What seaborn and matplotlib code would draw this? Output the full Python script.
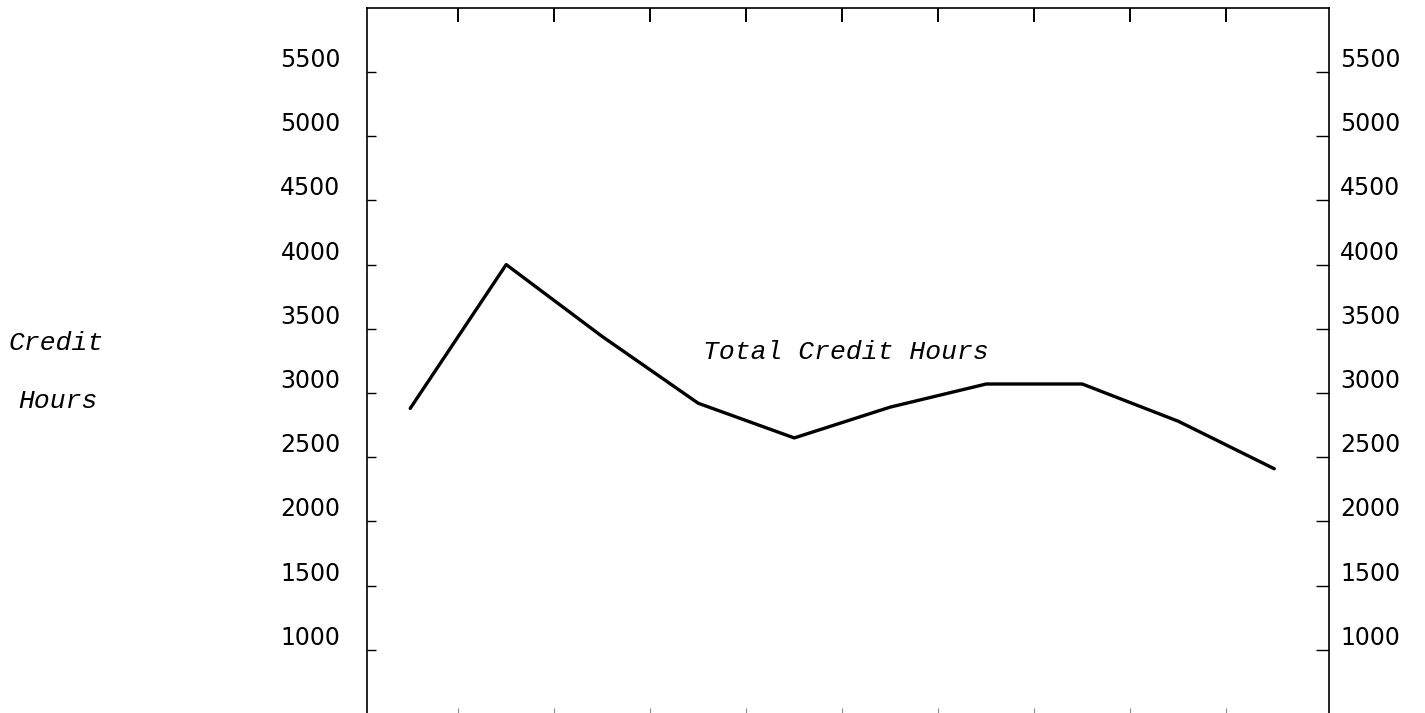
import matplotlib
matplotlib.use("Agg")
import pandas as pd
import matplotlib.pyplot as plt
import seaborn as sns

# values (x axis has no labels)
periods = [1, 2, 3, 4, 5, 6, 7, 8, 9, 10]
credit_hours = [2880, 4000, 3440, 2920, 2650, 2890, 3070, 3070, 2780, 2410]
y_ticks = [1000, 1500, 2000, 2500, 3000, 3500, 4000, 4500, 5000, 5500]
x_ticks = [1.5, 2.5, 3.5, 4.5, 5.5, 6.5, 7.5, 8.5, 9.5]
series_label = "Total Credit Hours"
axis_words = ["Credit", "Hours"]

sns.set_theme(style="white")
plt.rcParams['font.family'] = ['DejaVu Sans']

df = pd.DataFrame({"period": periods, "hours": credit_hours})

fig = plt.figure(figsize=(14.25, 7.13), dpi=100)
ax = fig.add_axes([367 / 1425, -0.0014, 962 / 1425, 0.9905])

sns.lineplot(data=df, x="period", y="hours", color="black", linewidth=2.4, ax=ax)

ax.set_xlim(0.55, 10.57)
ax.set_ylim(500, 6000)
ax.set_xlabel("")
ax.set_ylabel("")

# left axis
ax.set_yticks(y_ticks)
ax.tick_params(axis='y', direction='in', length=6.5, width=1, color='black',
               left=True, right=False, pad=19, labelsize=17, labelcolor='black')
# bottom: faint short ticks, no labels
ax.set_xticks(x_ticks)
ax.tick_params(axis='x', direction='in', length=4, width=0.8, color='#888888',
               bottom=True, top=False, labelbottom=False)

for side in ['left', 'right', 'top']:
    ax.spines[side].set_color('black')
    ax.spines[side].set_linewidth(1.2)
ax.spines['bottom'].set_visible(False)

# top ticks are longer than the bottom ones
top = ax.secondary_xaxis('top')
top.set_xticks(x_ticks)
top.tick_params(direction='in', length=10, width=1.4, color='black', labeltop=False)
top.spines['top'].set_visible(False)

# right axis repeats the scale
ax2 = ax.twinx()
ax2.set_ylim(ax.get_ylim())
ax2.set_yticks(y_ticks)
ax2.tick_params(axis='y', direction='in', length=9.5, width=1, color='black',
                pad=8, labelsize=17, labelcolor='black')
for s in ax2.spines.values():
    s.set_visible(False)
ax2.grid(False)

# labels sit a little above their tick marks
for lab in ax.get_yticklabels() + ax2.get_yticklabels():
    lab.set_va('bottom')

mono = dict(family=['Liberation Mono', 'DejaVu Sans Mono'], style='italic', fontsize=19, color='black')
fig.text(703 / 1425, 1 - 352 / 713, series_label, ha='left', va='center', **mono)
fig.text(8 / 1425, 1 - 343 / 713, axis_words[0], ha='left', va='center', **mono)
fig.text(18 / 1425, 1 - 401 / 713, axis_words[1], ha='left', va='center', **mono)

fig.savefig("out.png", dpi=100)
